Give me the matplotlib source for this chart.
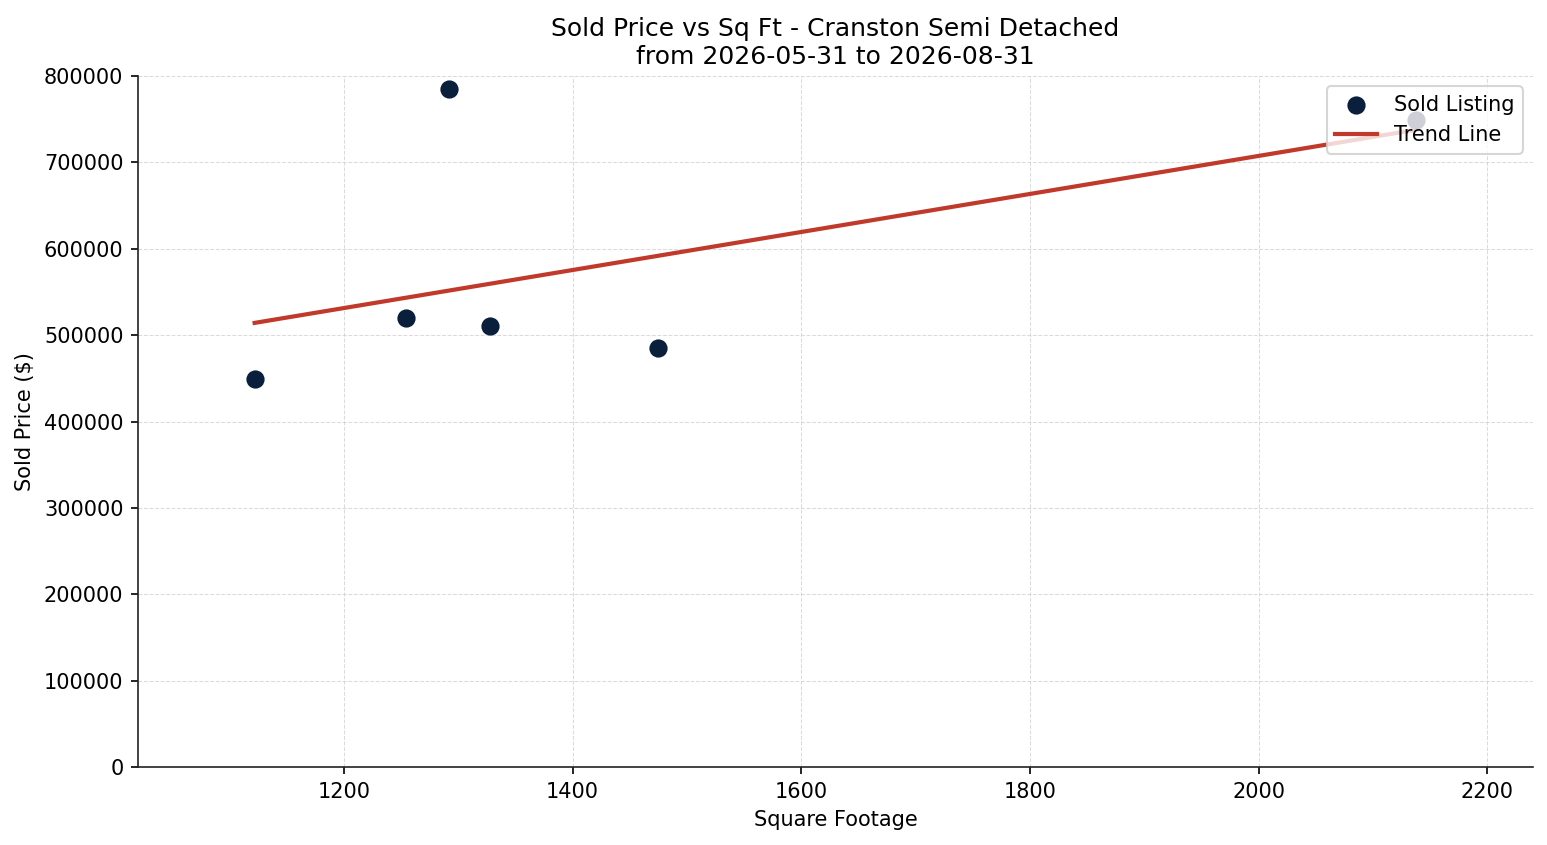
import numpy as np
import matplotlib
matplotlib.use("Agg")
import matplotlib.pyplot as plt

# Sold listings
sqft = [1122, 1254, 1292, 1328, 1475, 2138]
sold_price = [449000, 520000, 785000, 510500, 485000, 749000]

title = "Sold Price vs Sq Ft - Cranston Semi Detached\nfrom 2026-05-31 to 2026-08-31"

color_points = "#0a1f3c"
color_trend = "#c0392b"

x = np.array(sqft)
y = np.array(sold_price)

# Linear trend
slope, intercept = np.polyfit(x, y, 1)
x_fit = np.linspace(x.min(), x.max(), 100)
y_fit = slope * x_fit + intercept

fig, ax = plt.subplots(figsize=(1547 / 150, 845 / 150), dpi=150)
fig.subplots_adjust(left=0.0892, right=0.991, bottom=0.0923, top=0.91)

ax.scatter(x, y, s=60, color=color_points, label="Sold Listing", zorder=3)
ax.plot(x_fit, y_fit, color=color_trend, linewidth=2, label="Trend Line", zorder=2)

ax.set_xlim(1020, 2240)
ax.set_ylim(0, 800000)
ax.set_yticks(np.arange(0, 800001, 100000))

ax.grid(True, linestyle="--", linewidth=0.5, color="0.8", alpha=0.7)
ax.set_axisbelow(True)

ax.spines['top'].set_visible(False)
ax.spines['right'].set_visible(False)
ax.spines['left'].set_color('#222222')
ax.spines['bottom'].set_color('#222222')

ax.set_title(title, fontsize=12)
ax.set_xlabel("Square Footage")
ax.set_ylabel("Sold Price ($)")
ax.legend(loc="upper right")

fig.savefig("out.png", dpi=150)
